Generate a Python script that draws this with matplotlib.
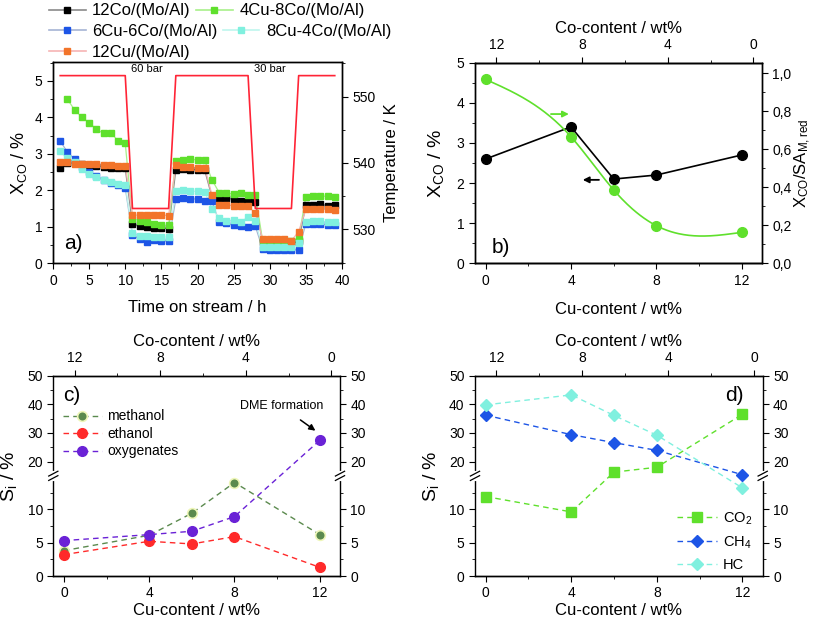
import numpy as np
import matplotlib
matplotlib.use('Agg')
import matplotlib.pyplot as plt
from matplotlib.ticker import MultipleLocator, FixedLocator, FuncFormatter
from matplotlib.lines import Line2D

plt.rcParams['font.family'] = ['Liberation Sans', 'DejaVu Sans']
plt.rcParams['mathtext.default'] = 'regular'
plt.rcParams['xtick.labelsize'] = 10
plt.rcParams['ytick.labelsize'] = 10
plt.rcParams['axes.labelsize'] = 12
plt.rcParams['axes.linewidth'] = 1.0
plt.rcParams['xtick.major.size'] = 4
plt.rcParams['ytick.major.size'] = 4
plt.rcParams['xtick.minor.size'] = 2.5
plt.rcParams['ytick.minor.size'] = 2.5

# ---- panel a: time on stream ----
hours = list(range(1, 40))
hours_green = list(range(2, 40))
x_12co = [2.60, 2.75, 2.74, 2.72, 2.70, 2.68, 2.65, 2.62, 2.61, 2.60,
          1.08, 1.02, 0.99, 0.97, 0.97, 0.95,
          2.55, 2.58, 2.57, 2.57, 2.55,
          1.82, 1.80, 1.79, 1.75, 1.72, 1.70, 1.67,
          0.58, 0.55, 0.55, 0.55, 0.55, 0.60,
          1.60, 1.60, 1.62, 1.58, 1.60]
x_4cu8co = [4.50, 4.20, 4.01, 3.85, 3.68, 3.56, 3.58, 3.36, 3.29,
            1.22, 1.17, 1.12, 1.08, 1.05, 1.04,
            2.80, 2.84, 2.86, 2.83, 2.82,
            2.29, 1.94, 1.92, 1.90, 1.92, 1.88, 1.88,
            0.64, 0.64, 0.64, 0.64, 0.62, 0.68,
            1.83, 1.84, 1.84, 1.84, 1.82]
x_6cu6co = [3.35, 3.05, 2.85, 2.65, 2.50, 2.40, 2.28, 2.20, 2.15, 2.07,
            0.77, 0.67, 0.58, 0.63, 0.61, 0.61,
            1.76, 1.78, 1.77, 1.76, 1.72,
            1.70, 1.13, 1.10, 1.04, 1.03, 1.00, 1.02,
            0.40, 0.36, 0.36, 0.36, 0.37, 0.37,
            1.09, 1.07, 1.07, 1.06, 1.05]
x_8cu4co = [3.08, 2.88, 2.78, 2.58, 2.45, 2.37, 2.28, 2.22, 2.18, 2.15,
            0.82, 0.75, 0.74, 0.73, 0.72, 0.72,
            1.98, 2.01, 1.98, 1.97, 1.96,
            1.50, 1.25, 1.15, 1.20, 1.13, 1.28, 1.15,
            0.45, 0.44, 0.44, 0.44, 0.44, 0.55,
            1.13, 1.15, 1.15, 1.13, 1.13]
x_12cu = [2.77, 2.77, 2.73, 2.72, 2.72, 2.71, 2.70, 2.69, 2.68, 2.68,
          1.32, 1.32, 1.32, 1.32, 1.32, 1.31,
          2.70, 2.65, 2.63, 2.62, 2.62,
          1.88, 1.60, 1.60, 1.58, 1.57, 1.57, 1.37,
          0.68, 0.68, 0.68, 0.68, 0.62, 0.87,
          1.48, 1.48, 1.50, 1.48, 1.46]
temp_t = [1, 10, 11, 16, 17, 27, 28, 33, 34, 39]
temp_k = [553.15, 553.15, 533.15, 533.15, 553.15, 553.15, 533.15, 533.15, 553.15, 553.15]

# ---- panels b-d: composition ----
cu = [0, 4, 6, 8, 12]
xco = [2.6, 3.4, 2.1, 2.2, 2.7]
xco_sa = [0.968, 0.666, 0.386, 0.198, 0.163]
s_methanol = [3.8, 6.1, 9.4, 14.0, 6.2]
s_ethanol = [3.2, 5.2, 4.8, 5.9, 1.3]
s_oxygenates = [5.3, 6.2, 6.7, 8.9, 27.4]
s_co2 = [11.9, 9.6, 16.3, 18.0, 36.5]
s_ch4 = [36.2, 29.4, 26.6, 23.9, 15.4]
s_hc = [39.8, 43.3, 36.1, 29.2, 13.2]

GREEN = '#5fe02c'
BLUE = '#1d55e6'
CYAN = '#80f0df'
ORANGE = '#f2742a'
RED = '#ff2436'

W, H = 817, 618
fig = plt.figure(figsize=(W / 100, H / 100), dpi=100)


def box(l, t, r, b):
    return [l / W, 1 - b / H, (r - l) / W, (b - t) / H]


def natural_spline(x, y, n=200):
    # spline line connection through the points (as in the original plot)
    x = np.asarray(x, float)
    y = np.asarray(y, float)
    h = np.diff(x)
    k = len(x)
    A = np.zeros((k, k))
    r = np.zeros(k)
    A[0, 0] = A[-1, -1] = 1
    for i in range(1, k - 1):
        A[i, i - 1] = h[i - 1]
        A[i, i] = 2 * (h[i - 1] + h[i])
        A[i, i + 1] = h[i]
        r[i] = 6 * ((y[i + 1] - y[i]) / h[i] - (y[i] - y[i - 1]) / h[i - 1])
    m = np.linalg.solve(A, r)
    xs = np.linspace(x[0], x[-1], n)
    j = np.clip(np.searchsorted(x, xs) - 1, 0, k - 2)
    a = x[j + 1] - xs
    b = xs - x[j]
    hj = h[j]
    ys = (m[j] * a ** 3 / (6 * hj) + m[j + 1] * b ** 3 / (6 * hj)
          + (y[j] / hj - m[j] * hj / 6) * a + (y[j + 1] / hj - m[j + 1] * hj / 6) * b)
    return xs, ys


# ================= a) =================
ax = fig.add_axes(box(53, 62, 342, 263.3))
series = [('12Co/(Mo/Al)', hours, x_12co, 'black', '#8a8a8a'),
          ('4Cu-8Co/(Mo/Al)', hours_green, x_4cu8co, GREEN, '#a8f08a'),
          ('6Cu-6Co/(Mo/Al)', hours, x_6cu6co, BLUE, '#a6b4d4'),
          ('8Cu-4Co/(Mo/Al)', hours, x_8cu4co, CYAN, '#bff6ee'),
          ('12Cu/(Mo/Al)', hours, x_12cu, ORANGE, '#f6b4b4')]
handles = []
for lab, t, y, mc, lc in series:
    ax.plot(t, y, color=lc, lw=0.9, zorder=2)
    ax.plot(t, y, ls='none', marker='s', ms=4.5, mfc=mc, mec=mc, zorder=3)
    handles.append(Line2D([], [], color=lc, lw=1.2, marker='s', ms=4.5, mfc=mc, mec=mc))
labels = [s[0] for s in series]
ax.set_xlim(0, 40)
ax.set_ylim(0, 5.52)
ax.xaxis.set_major_locator(MultipleLocator(5))
ax.xaxis.set_minor_locator(MultipleLocator(2.5))
ax.yaxis.set_major_locator(MultipleLocator(1))
ax.yaxis.set_minor_locator(MultipleLocator(0.5))
ax.set_xlabel('Time on stream / h', labelpad=9)
ax.set_ylabel('X$_{CO}$ / %', fontsize=13, labelpad=4)
ax.text(0.07, 0.1, 'a)', transform=ax.transAxes, fontsize=15, va='center', ha='center')
ax.text(13.0, 5.32, '60 bar', fontsize=8, ha='center', va='center')
ax.text(30.0, 5.32, '30 bar', fontsize=8, ha='center', va='center')
axt = ax.twinx()
axt.plot(temp_t, temp_k, color=RED, lw=1.2)
axt.set_ylim(524.9, 555.2)
axt.yaxis.set_major_locator(MultipleLocator(10))
axt.yaxis.set_minor_locator(MultipleLocator(5))
axt.set_ylabel('Temperature / K', labelpad=6)
# one legend per row, like the original's free-flowing legend
rows = [(0, 2), (2, 4), (4, 5)]
for n, (i0, i1) in enumerate(rows):
    fig.legend(handles[i0:i1], labels[i0:i1], ncol=2, loc='center left',
               bbox_to_anchor=(53 / W - 0.005, 1 - (11 + 20.5 * n) / H), frameon=False,
               fontsize=12, handlelength=2.2, handletextpad=0.4, columnspacing=0.3,
               borderpad=0, borderaxespad=0)


# ================= helpers =================
def top_axis(a):
    top = a.twiny()
    top.set_xlim(13.0, -0.4)
    top.xaxis.set_major_locator(FixedLocator([12, 8, 4, 0]))
    top.xaxis.set_minor_locator(FixedLocator([10, 6, 2]))
    top.set_xlabel('Co-content / wt%', labelpad=4)
    return top


def cu_axis(a, pad):
    a.set_xlim(-0.5, 12.95)
    a.xaxis.set_major_locator(FixedLocator([0, 4, 8, 12]))
    a.xaxis.set_minor_locator(FixedLocator([2, 6, 10]))
    a.set_xlabel('Cu-content / wt%', labelpad=pad)


# ================= b) =================
axb = fig.add_axes(box(475, 62.7, 762, 263.3))
cu_axis(axb, 10)
axb.set_ylim(0, 5)
axb.yaxis.set_major_locator(MultipleLocator(1))
axb.yaxis.set_minor_locator(MultipleLocator(0.5))
axb.set_ylabel('X$_{CO}$ / %', fontsize=14, labelpad=8)
axb.plot(cu, xco, color='black', lw=1.2, marker='o', ms=7, zorder=4)
axb.annotate('', xy=(4.03, 3.72), xytext=(2.93, 3.72),
             arrowprops=dict(arrowstyle='-|>', color=GREEN, lw=1.3, mutation_scale=9))
axb.annotate('', xy=(4.42, 2.08), xytext=(5.44, 2.08),
             arrowprops=dict(arrowstyle='-|>', color='black', lw=1.3, mutation_scale=9))
axb.text(0.09, 0.08, 'b)', transform=axb.transAxes, fontsize=15, va='center', ha='center')
axbr = axb.twinx()
xs, ys = natural_spline(cu, xco_sa)
axbr.plot(xs, ys, color=GREEN, lw=1.2)
axbr.plot(cu, xco_sa, ls='none', marker='o', ms=7, color=GREEN)
axbr.set_ylim(0, 1.056)
axbr.yaxis.set_major_locator(MultipleLocator(0.2))
axbr.yaxis.set_minor_locator(MultipleLocator(0.1))
axbr.yaxis.set_major_formatter(FuncFormatter(lambda v, p: f'{v:.1f}'.replace('.', ',')))
axbr.set_ylabel('X$_{CO}$/SA$_{M,red}$', fontsize=12, labelpad=1)
tb = top_axis(axb)
tb.spines[['left', 'right']].set_visible(False)


# ================= c) and d): broken axis =================
def fwd(y):
    y = np.asarray(y, dtype=float)
    return np.where(y <= 15, y, 15 + (y - 15) * 15 / 35)


def inv(y):
    y = np.asarray(y, dtype=float)
    return np.where(y <= 15, y, 15 + (y - 15) * 35 / 15)


def sel_axis(a, tag, tagx):
    cu_axis(a, 2)
    a.set_yscale('function', functions=(fwd, inv))
    a.set_ylim(0, 50)
    a.yaxis.set_major_locator(FixedLocator([0, 5, 10, 20, 30, 40, 50]))
    a.yaxis.set_minor_locator(FixedLocator([2.5, 7.5, 12.5, 25, 35, 45]))
    a.yaxis.set_major_formatter(FuncFormatter(lambda v, p: f'{v:g}'))
    a.yaxis.set_minor_formatter(FuncFormatter(lambda v, p: ''))
    a.tick_params(axis='y', which='both', right=True, labelright=True)
    a.set_ylabel('S$_{i}$ / %', fontsize=14, labelpad=6)
    a.text(tagx, 0.9, tag, transform=a.transAxes, fontsize=15, va='center', ha='center')
    top = top_axis(a)
    top.spines[['left', 'right']].set_visible(False)
    for xe in (0, 1):
        top.plot([xe, xe], [0.485, 0.515], color='white', lw=3, transform=top.transAxes,
                 clip_on=False, zorder=10)
        for dy in (-0.011, 0.011):
            top.plot([xe - 0.016, xe + 0.016], [0.5 + dy - 0.012, 0.5 + dy + 0.012],
                     color='black', lw=0.9, transform=top.transAxes, clip_on=False, zorder=11)
    return top


axc = fig.add_axes(box(53.3, 375.7, 340, 576))
sel_axis(axc, 'c)', 0.065)
axc.plot(cu, s_methanol, ls='--', lw=1.0, color='#5b8a4e', marker='o', ms=7,
         mfc='#5b8a4e', mec='#eef6b8', mew=1.2, dashes=(4, 3), label='methanol')
axc.plot(cu, s_ethanol, ls='--', lw=1.0, color='#ff2a2a', marker='o', ms=7,
         mec='#ff2a2a', dashes=(4, 3), label='ethanol')
axc.plot(cu, s_oxygenates, ls='--', lw=1.0, color='#6a22d6', marker='o', ms=7,
         mec='#6a22d6', dashes=(4, 3), label='oxygenates')
axc.legend(loc='upper left', bbox_to_anchor=(0.0, 0.88), frameon=False, fontsize=10,
           handlelength=2.8, handletextpad=0.4, labelspacing=0.25, borderaxespad=0.3)
axc.annotate('DME formation', xy=(11.85, 30.5), xytext=(10.2, 39.3), fontsize=9,
             ha='center', va='center',
             arrowprops=dict(arrowstyle='-|>', color='black', lw=1.1, mutation_scale=9,
                             shrinkA=6, shrinkB=1))

axd = fig.add_axes(box(475, 375.7, 762.7, 576))
sel_axis(axd, 'd)', 0.9)
axd.plot(cu, s_co2, ls='--', lw=1.0, color=GREEN, marker='s', ms=6.5, mec=GREEN,
         dashes=(4, 3), label='CO$_2$')
axd.plot(cu, s_ch4, ls='--', lw=1.0, color=BLUE, marker='D', ms=6.5, mec=BLUE,
         dashes=(4, 3), label='CH$_4$')
axd.plot(cu, s_hc, ls='--', lw=1.0, color=CYAN, marker='D', ms=6.5, mec=CYAN,
         dashes=(4, 3), label='HC')
axd.legend(loc='lower right', bbox_to_anchor=(1.0, -0.03), frameon=False, fontsize=10.5,
           handlelength=2.8, handletextpad=0.4, labelspacing=0.5, borderaxespad=0.3)

fig.savefig('out.png', dpi=100)
